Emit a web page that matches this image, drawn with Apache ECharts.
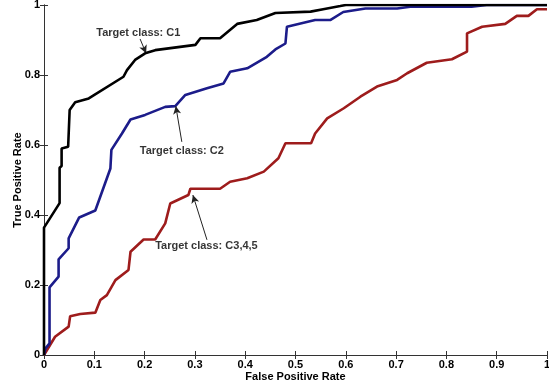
<!DOCTYPE html>
<html>
<head>
<meta charset="utf-8">
<script src="https://cdn.jsdelivr.net/npm/echarts@6/dist/echarts.min.js"></script>
<style>html,body{margin:0;padding:0;background:#fff;}#c{width:549px;height:385px;}</style>
</head>
<body>
<div id="c"></div>
<script>
// ROC curves (x = False Positive Rate, y = True Positive Rate)
const c1 = [[0,0],[0,0.364],[0.031,0.434],[0.031,0.535],[0.035,0.54],[0.035,0.59],[0.048,0.595],[0.051,0.70],[0.062,0.722],[0.089,0.733],[0.158,0.795],[0.165,0.814],[0.181,0.843],[0.201,0.862],[0.221,0.871],[0.301,0.886],[0.311,0.905],[0.350,0.905],[0.384,0.946],[0.423,0.957],[0.46,0.977],[0.53,0.981],[0.555,0.988],[0.589,0.997],[0.60,1.0],[1.0,1.0]];
const c2 = [[0,0],[0.003,0.019],[0.011,0.033],[0.011,0.193],[0.029,0.224],[0.029,0.273],[0.049,0.305],[0.049,0.333],[0.070,0.393],[0.102,0.413],[0.132,0.533],[0.134,0.586],[0.155,0.633],[0.172,0.673],[0.201,0.686],[0.241,0.709],[0.261,0.711],[0.281,0.743],[0.324,0.762],[0.357,0.776],[0.370,0.809],[0.404,0.819],[0.443,0.852],[0.46,0.873],[0.48,0.890],[0.483,0.938],[0.539,0.957],[0.569,0.957],[0.595,0.980],[0.639,0.99],[0.702,0.99],[0.728,0.995],[0.85,0.995],[0.88,1.0],[1.0,1.0]];
const c3 = [[0,0],[0.022,0.052],[0.049,0.081],[0.052,0.111],[0.072,0.117],[0.102,0.121],[0.112,0.157],[0.125,0.171],[0.142,0.214],[0.168,0.243],[0.172,0.295],[0.198,0.33],[0.221,0.33],[0.241,0.376],[0.251,0.433],[0.287,0.457],[0.291,0.475],[0.350,0.475],[0.370,0.495],[0.404,0.505],[0.437,0.524],[0.466,0.562],[0.48,0.605],[0.531,0.605],[0.539,0.633],[0.563,0.676],[0.596,0.705],[0.629,0.738],[0.662,0.767],[0.702,0.786],[0.722,0.805],[0.761,0.835],[0.811,0.845],[0.841,0.867],[0.841,0.919],[0.871,0.938],[0.917,0.946],[0.94,0.969],[0.963,0.969],[0.98,0.988],[1.0,0.988]];
const seriesNames = ['C1','C2','C3,4,5'];
const annotationTexts = ['Target class: C1','Target class: C2','Target class: C3,4,5'];
const annotationPos = [[0.1875,0.92],[0.274,0.584],[0.323,0.311]];
const arrowTail = [[0.191,0.903],[0.274,0.609],[0.324,0.329]];
const arrowHead = [[0.203,0.862],[0.262,0.711],[0.296,0.457]];
const xTicks = [0,0.1,0.2,0.3,0.4,0.5,0.6,0.7,0.8,0.9,1];
const yTicks = [0,0.2,0.4,0.6,0.8,1];

const font = 'Liberation Sans, Arial, sans-serif';
const chart = echarts.init(document.getElementById('c'));
const fmt = v => (Math.abs(v - 1) < 1e-9 ? '1' : Math.abs(v) < 1e-9 ? '0' : String(+v.toFixed(1)));
const axisCommon = {
  type: 'value', min: 0, max: 1,
  axisLine: {show: true, lineStyle: {color: '#333', width: 1}},
  axisTick: {show: true, inside: true, length: 4, lineStyle: {color: '#333'}},
  splitLine: {show: false}
};
const colors = ['#000000','#1c1c8a','#9e1c1c'];
const lines = [c1, c2, c3].map((d, i) => ({
  type: 'line', name: seriesNames[i], data: d, showSymbol: false, symbol: 'none',
  lineStyle: {color: colors[i], width: 2.6}, z: 3 - i + 2, animation: false
}));
chart.setOption({
  animation: false,
  grid: {left: 44, right: 2, top: 5, bottom: 30, containLabel: false, outerBoundsMode: 'none'},
  xAxis: [
    Object.assign({}, axisCommon, {interval: 0.1, position: 'bottom',
      name: 'False Positive Rate', nameLocation: 'middle', nameGap: 16, nameMoveOverlap: false,
      nameTextStyle: {fontFamily: font, fontWeight: 'bold', fontSize: 11, color: '#000'},
      axisLabel: {show: true, margin: 4, fontFamily: font, fontWeight: 'bold', fontSize: 11, color: '#000', formatter: fmt, showMaxLabel: true, showMinLabel: true}}),
    Object.assign({}, axisCommon, {interval: 0.1, position: 'top', axisLabel: {show: false}})
  ],
  yAxis: [
    Object.assign({}, axisCommon, {interval: 0.2, position: 'left',
      name: 'True Positive Rate', nameLocation: 'middle', nameGap: 21, nameMoveOverlap: false,
      nameTextStyle: {fontFamily: font, fontWeight: 'bold', fontSize: 11, color: '#000'},
      axisLabel: {show: true, margin: 4, fontFamily: font, fontWeight: 'bold', fontSize: 11, color: '#000', formatter: fmt}}),
    Object.assign({}, axisCommon, {interval: 0.2, position: 'right', axisLabel: {show: false}})
  ],
  series: lines.concat([
    {
      type: 'scatter', symbolSize: 0, silent: true, z: 10,
      data: annotationTexts.map((t, i) => ({name: t, value: annotationPos[i]})),
      label: {show: true, position: 'inside', formatter: p => p.name, fontFamily: font, fontWeight: 'bold', fontSize: 11, color: '#000'},
      markLine: {
        silent: true, symbol: ['none', 'arrow'], symbolSize: [6, 8], animation: false,
        lineStyle: {color: '#222', width: 1, type: 'solid'},
        label: {show: false},
        data: arrowTail.map((t, i) => [{coord: t}, {coord: arrowHead[i]}])
      }
    }
  ])
});
</script>
</body>
</html>
